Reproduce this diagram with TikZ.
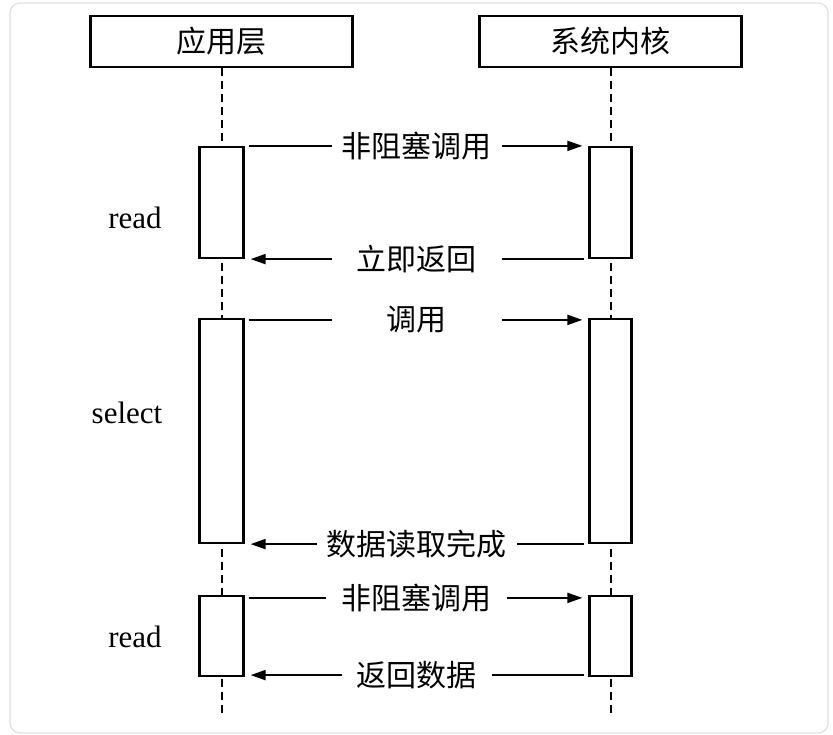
\documentclass[tikz,border=0pt]{standalone}
\usepackage{fontspec}
\setmainfont{Liberation Serif}
\newfontfamily\cjk{Noto Sans CJK SC}
\usetikzlibrary{arrows.meta}
\begin{document}
\begin{tikzpicture}[x=1pt,y=-1pt,
  hdr/.style={draw, line width=2.2pt, minimum width=262pt, minimum height=51pt, inner sep=0pt, font=\cjk\fontsize{30}{30}\selectfont},
  act/.style={draw, line width=2.2pt, fill=white, inner sep=0pt},
  life/.style={line width=2pt, dash pattern=on 8pt off 5pt},
  msg/.style={line width=2pt, -{Triangle[length=15pt,width=10pt]}, shorten <=4pt, shorten >=6pt},
  lab/.style={fill=white, inner sep=0pt, minimum height=32pt, font=\cjk\fontsize{30}{30}\selectfont},
  side/.style={inner sep=0pt, font=\fontsize{31}{31}\selectfont}]
\useasboundingbox (0,0) rectangle (833,735);
\draw[black!12, line width=1.2pt, rounded corners=10pt] (10,3) rectangle (828,733);
% headers
\node[hdr] (app) at (221.5,41.5) {应用层};
\node[hdr] (ker) at (610.5,41.5) {系统内核};
% lifelines
\coordinate (endL) at (221.5,716);
\coordinate (endR) at (610.5,716);
\draw[life] (app.south) -- (endL);
\draw[life] (ker.south) -- (endR);
% activation boxes
\node[act, minimum width=44pt, minimum height=111pt] (a1) at (221.5,202.5) {};
\node[act, minimum width=42pt, minimum height=111pt] (b1) at (610.5,202.5) {};
\node[act, minimum width=44pt, minimum height=224pt] (a2) at (221.5,431) {};
\node[act, minimum width=42pt, minimum height=224pt] (b2) at (610.5,431) {};
\node[act, minimum width=44pt, minimum height=80pt] (a3) at (221.5,636) {};
\node[act, minimum width=42pt, minimum height=80pt] (b3) at (610.5,636) {};
% side labels
\node[side] (r1) at (135,218) {read};
\node[side] (s2) at (127,413) {select};
\node[side] (r3) at (135,637) {read};
% messages
\draw[msg] (a1.north east) -- node[lab, minimum width=170pt] {非阻塞调用} (b1.north west);
\draw[msg] (b1.south west) -- node[lab, minimum width=170pt] {立即返回} (a1.south east);
\draw[msg] ([yshift=-2pt]a2.north east) -- node[lab, minimum width=170pt] {调用} ([yshift=-2pt]b2.north west);
\draw[msg] (b2.south west) -- node[lab, minimum width=200pt] {数据读取完成} (a2.south east);
\draw[msg] ([yshift=-3pt]a3.north east) -- node[lab, minimum width=181pt] {非阻塞调用} ([yshift=-3pt]b3.north west);
\draw[msg] ([yshift=2pt]b3.south west) -- node[lab, minimum width=150pt] {返回数据} ([yshift=2pt]a3.south east);
\end{tikzpicture}
\end{document}
